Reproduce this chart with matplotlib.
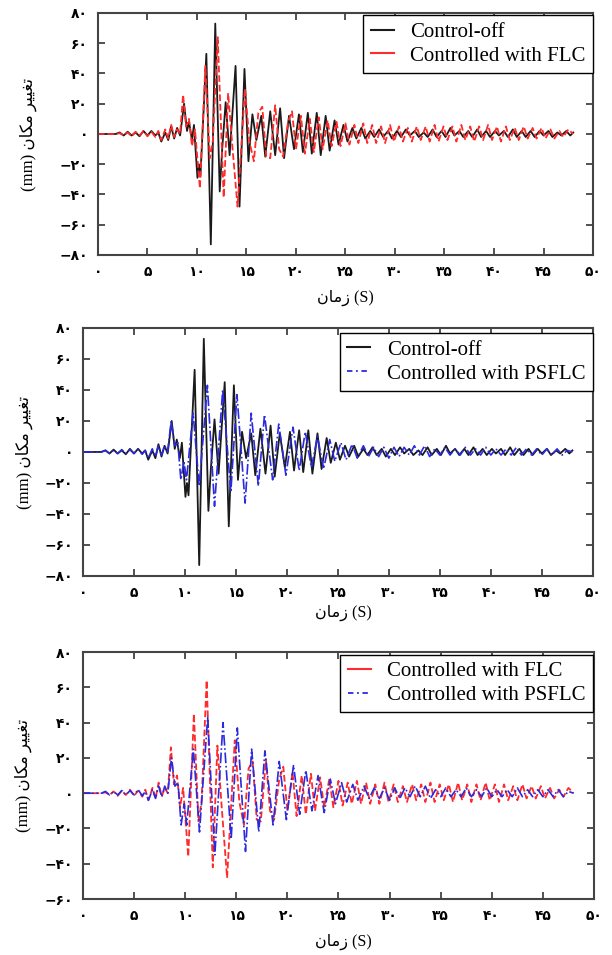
import numpy as np
import matplotlib
matplotlib.use('Agg')
import matplotlib.pyplot as plt
from matplotlib.lines import Line2D
from matplotlib.ticker import FuncFormatter, MultipleLocator

# peaks of the displacement records (time in s, displacement in mm)
t_off = [0, 1.8, 2.2, 2.6, 3.0, 3.4, 3.8, 4.2, 4.6, 5.0, 5.4, 5.8, 6.1, 6.4, 6.8, 7.1, 7.4, 7.7, 8.0, 8.3,
         8.7, 9.0, 9.2, 9.5, 9.7, 10.05, 10.2, 10.35, 10.95, 11.4, 11.85, 12.3, 12.55, 12.9, 13.3, 13.9,
         14.3, 14.8, 15.2, 15.6, 16.0, 16.5, 16.9, 17.4, 17.9, 18.4, 18.8, 19.3, 19.8, 20.3, 20.7, 21.2,
         21.6, 22.1, 22.5, 23.0, 23.4, 23.9, 24.3, 24.8, 25.2, 25.7, 26.1, 26.6, 27.0, 27.5, 27.9, 28.4,
         28.8, 29.3, 29.7, 30.2, 30.6, 31.1, 31.5, 32.0, 32.4, 32.9, 33.3, 33.8, 34.2, 34.7, 35.1, 35.6,
         36.0, 36.5, 36.9, 37.4, 37.8, 38.3, 38.7, 39.2, 39.6, 40.1, 40.5, 41.0, 41.4, 41.9, 42.3, 42.8,
         43.2, 43.7, 44.1, 44.6, 45.0, 45.5, 45.9, 46.4, 46.8, 47.3, 47.7, 48.0]
y_off = [0, 0, 1, -1, 1.5, -1, 1, -1.5, 2, -1, 2, -1, 1, -5, 1, -4, 5, -3, 4, -1,
         20, 2, 8, -4, 6, -29, -20, -28, 53, -73, 73, -38, -10, 21, -14, 45,
         -48, 43, -18, 13, -4, 12, -15, 15, -14, 17, -16, 12, -10, 13, -12, 14,
         -13, 14, -14, 12, -11, 9, -7, 6, -5, 4, -3, 4, -3, 2, -2, 3,
         -2, 2, -3, 2, -2, 3, -1, 2, -2, 1, -2, 3, -2, 2, -2, 4,
         -1, 2, -2, 2, -2, 3, -2, 2, -2, 2, -1, 2, -2, 3, -2, 2,
         -2, 2, -2, 2, -1, 2, -2, 1, -1, 2, -1, 1]

t_flc = [0, 1.8, 2.2, 2.6, 3.0, 3.4, 3.8, 4.2, 4.6, 5.0, 5.4, 5.8, 6.1, 6.4, 6.8, 7.1, 7.4, 7.7, 8.0, 8.3,
         8.6, 8.9, 9.2, 9.5, 9.8, 10.3, 10.85, 11.3, 11.6, 12.1, 12.7, 13.15, 13.6, 14.1, 14.85, 15.3,
         15.75, 16.2, 16.6, 17.0, 17.4, 17.9, 18.3, 18.7, 19.2, 19.6, 20.0, 20.5, 20.9, 21.4, 21.8, 22.3,
         22.7, 23.2, 23.6, 24.1, 24.5, 25.0, 25.4, 25.9, 26.3, 26.8, 27.2, 27.7, 28.1, 28.6, 29.0, 29.5,
         29.9, 30.4, 30.8, 31.3, 31.7, 32.2, 32.6, 33.1, 33.5, 34.0, 34.4, 34.9, 35.3, 35.8, 36.2, 36.7,
         37.1, 37.6, 38.0, 38.5, 38.9, 39.4, 39.8, 40.3, 40.7, 41.2, 41.6, 42.1, 42.5, 43.0, 43.4, 43.9,
         44.3, 44.8, 45.2, 45.7, 46.1, 46.6, 47.0, 47.5, 48.0]
y_flc = [0, 0, 0.5, -1, 1, -1.5, 1.5, -1, 2, -1.5, 1.5, -2, 2, -4, 3, -3, 6, -2, 3, 0,
         26, 5, 10, -8, 3, -36, 45, -16, -5, 64, -42, 27, -10, -48, 30, -5,
         -18, 14, 18, -15, -16, 19, -10, -15, 8, 15, -10, 12, -13, 10, -12, 11,
         -10, 9, -8, 8, -8, 7, -7, 6, -6, 7, -6, 6, -6, 5, -6, 6,
         -5, 5, -5, 4, -5, 5, -4, 5, -5, 6, -5, 5, -4, 5, -5, 6,
         -4, 5, -5, 5, -4, 6, -4, 5, -5, 5, -4, 4, -4, 5, -3, 4,
         -3, 4, -3, 3, -3, 2, -2, 3, 0]

t_psflc = [0, 1.8, 2.2, 2.6, 3.0, 3.4, 3.8, 4.2, 4.6, 5.0, 5.4, 5.8, 6.1, 6.4, 6.8, 7.1, 7.4, 7.7, 8.0, 8.3,
           8.65, 9.0, 9.3, 9.6, 9.9, 10.15, 10.8, 11.4, 12.2, 12.9, 13.7, 14.5, 15.1, 15.9, 16.5, 17.2,
           17.8, 18.6, 19.2, 19.9, 20.6, 21.2, 21.8, 22.4, 23.0, 23.6, 24.2, 24.7, 25.3, 25.8, 26.4, 26.9,
           27.5, 28.0, 28.5, 29.0, 29.5, 30.0, 30.5, 31.0, 31.5, 32.0, 32.5, 33.0, 33.5, 34.0, 34.5, 35.0,
           35.5, 36.0, 36.5, 37.0, 37.5, 38.0, 38.5, 39.0, 39.5, 40.0, 40.5, 41.0, 41.5, 42.0, 42.5, 43.0,
           43.5, 44.0, 44.5, 45.0, 45.5, 46.0, 46.5, 47.0, 47.5, 48.0]
y_psflc = [0, 0, 1, -1, 1, -1, 1.5, -1, 1.5, -1, 2, -1.5, 1, -4, 2, -3, 4, -2, 4, 0,
           20, 4, 6, -18, -6, -18, 25, -22, 43, -35, 40, -26, 37, -33, 25, -22,
           24, -18, 18, -15, 16, -12, 13, -10, 10, -11, 8, -6, 6, -5, 5, -4,
           4, -3, 3, -3, 3, -4, 3, -3, 3, -2, 4, -2, 4, -3, 2, -2,
           3, -2, 2, -2, 3, -2, 2, -2, 3, -2, 2, -2, 2, -2, 3, -2,
           2, -2, 2, -2, 2, -2, 2, -2, 1, 0]

xticks = [0, 5, 10, 15, 20, 25, 30, 35, 40, 45, 50]

# persian text written in presentation forms, visual order (matplotlib does no shaping)
ylabel_txt = '(mm) \uFEE5\uFE8E\uFB91\uFEE3 \uFEAE\uFBFF\uFBFF\uFED0\uFE97'
xlabel_txt = '\uFEE5\uFE8E\uFEE3\uFEAF (S)'

FA_DIGITS = str.maketrans('0123456789', '\u06F0\u06F1\u06F2\u06F3\u06F4\u06F5\u06F6\u06F7\u06F8\u06F9')

BLACK = '#1a1a1a'
RED = '#ff2a2a'
BLUE = '#2a2ae0'


def fa_num(v, pos):
    s = str(int(round(abs(v)))).translate(FA_DIGITS)
    return '\u2212' + s if v < -0.5 else s


def style_axes(ax, ylim):
    ax.set_xlim(0, 50)
    ax.set_ylim(*ylim)
    ax.set_xticks(xticks)
    ax.yaxis.set_major_locator(MultipleLocator(20))
    ax.xaxis.set_major_formatter(FuncFormatter(fa_num))
    ax.yaxis.set_major_formatter(FuncFormatter(fa_num))
    ax.tick_params(direction='in', top=True, right=True, length=5, width=1.2, color='#333333',
                   labelsize=10, pad=7)
    for lab in ax.get_xticklabels() + ax.get_yticklabels():
        lab.set_fontfamily('DejaVu Sans')
        lab.set_fontweight('bold')
    for sp in ax.spines.values():
        sp.set_color('#444444')
        sp.set_linewidth(1.5)


def add_labels(ax, ylab_x, xlab_x, xlab_y):
    ax.text(ylab_x, 0.5, ylabel_txt, transform=ax.transAxes, rotation=90, ha='center', va='center',
            fontsize=12, family=['Liberation Serif', 'DejaVu Sans'])
    ax.text(xlab_x, xlab_y, xlabel_txt, transform=ax.transAxes, ha='center', va='center',
            fontsize=11.5, family=['Liberation Serif', 'DejaVu Sans'])


def add_legend(ax, handles, labels, anchor):
    leg = ax.legend(handles, labels, loc='upper right', bbox_to_anchor=anchor, borderaxespad=0,
                    fancybox=False, framealpha=1, edgecolor='black', handlelength=1.1,
                    handletextpad=0.8, prop={'family': 'Liberation Serif', 'size': 15},
                    labelspacing=0.2, borderpad=0.35)
    leg.get_frame().set_linewidth(1.0)


# legend keys: solid for black and red, dash-dot for blue
key_off = Line2D([], [], color=BLACK, lw=1.5)
key_flc = Line2D([], [], color=RED, lw=1.5)
key_psflc = Line2D([], [], color=BLUE, lw=1.3, ls=(0, (3, 2, 1, 2)))

fig = plt.figure(figsize=(6.12, 9.55), dpi=100)

# top: control-off vs FLC
ax1 = fig.add_axes([0.160, 0.733, 0.809, 0.2534])
ax1.plot(t_off, y_off, color=BLACK, lw=1.3)
ax1.plot(t_flc, y_flc, color=RED, lw=1.3, ls='--')
style_axes(ax1, (-80, 80))
add_legend(ax1, [key_off, key_flc], ['Control-off', 'Controlled with FLC'], (1.0, 0.992))
add_labels(ax1, -0.141, 0.50, -0.178)

# middle: control-off vs PSFLC
ax2 = fig.add_axes([0.1356, 0.3969, 0.833, 0.2597])
ax2.plot(t_off, y_off, color=BLACK, lw=1.3)
ax2.plot(t_psflc, y_psflc, color=BLUE, lw=1.2, ls='-.')
style_axes(ax2, (-80, 80))
add_legend(ax2, [key_off, key_psflc], ['Control-off', 'Controlled with PSFLC'], (1.0, 0.98))
add_labels(ax2, -0.116, 0.51, -0.149)

# bottom: FLC vs PSFLC
ax3 = fig.add_axes([0.1356, 0.0586, 0.835, 0.2586])
ax3.plot(t_flc, y_flc, color=RED, lw=1.3, ls='--')
ax3.plot(t_psflc, y_psflc, color=BLUE, lw=1.2, ls='-.')
style_axes(ax3, (-60, 80))
add_legend(ax3, [key_flc, key_psflc], ['Controlled with FLC', 'Controlled with PSFLC'], (0.998, 0.99))
add_labels(ax3, -0.116, 0.51, -0.174)

fig.savefig('out.png', dpi=100)
